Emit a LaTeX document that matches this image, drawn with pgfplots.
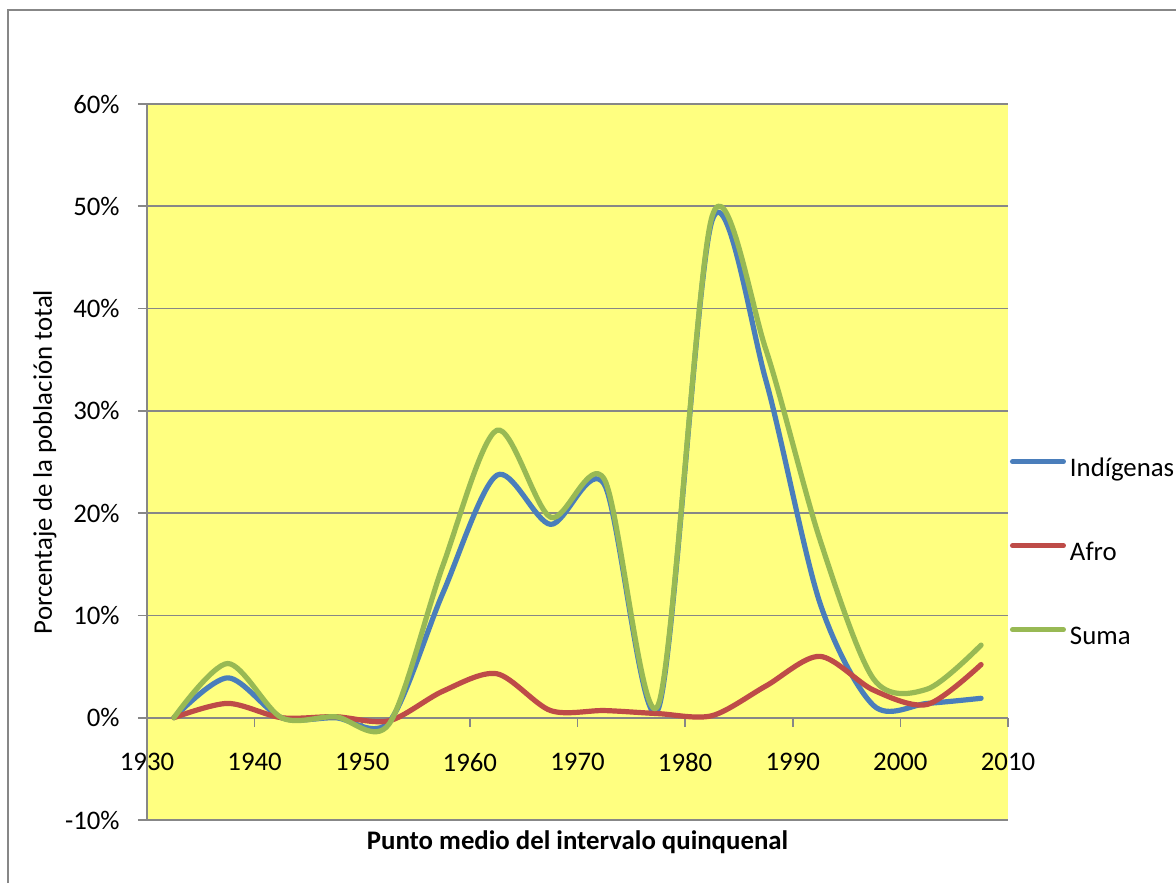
\documentclass[border=0pt]{standalone}
\usepackage{fontspec}
\setmainfont{Carlito}
\usepackage{pgfplots}
\pgfplotsset{compat=1.18}
\definecolor{cblue}{HTML}{4A7EBB}
\definecolor{cred}{HTML}{BE4B48}
\definecolor{cgreen}{HTML}{98B954}
\definecolor{cyel}{HTML}{FFFF80}
\definecolor{cgrid}{HTML}{878787}
\pgfplotstableread{
x indig afro suma
1932.5 0 0 0
1937.5 3.9 1.4 5.3
1942.5 0 0 0
1947.5 0 0.1 0.1
1952.5 -0.4 -0.3 -0.6
1957.5 12.2 2.6 14.9
1962.5 23.7 4.3 28.1
1967.5 18.9 0.7 19.6
1972.5 22.8 0.7 23.3
1977.5 0.85 0.4 1.25
1982.5 48.6 0.2 49.0
1987.5 33.0 3.1 36.0
1992.5 11.3 6.0 17.5
1997.5 1.2 2.7 3.8
2002.5 1.4 1.3 2.8
2007.5 1.9 5.2 7.1
}\datatable
\begin{document}
\begin{tikzpicture}
\useasboundingbox (0pt,0pt) rectangle (588pt,441.5pt);
\draw[cgrid, line width=1pt] (4pt,0pt) -- (4pt,436.5pt) -- (588pt,436.5pt);
\begin{axis}[
  at={(73.5pt,31.5pt)}, anchor=south west,
  scale only axis, width=430.5pt, height=358pt,
  xmin=1930, xmax=2010, ymin=-10, ymax=60,
  axis x line=middle, axis y line=left,
  hide obscured x ticks=false, hide obscured y ticks=false,
  axis line style={-, cgrid, line width=0.8pt},
  axis background/.style={fill=cyel},
  xtick={1930,1940,...,2010},
  ytick={-10,0,...,60},
  ymajorgrids, grid style={cgrid, line width=0.8pt},
  tick align=outside, major tick length=4.5pt,
  tick style={cgrid, line width=0.8pt},
  /pgf/number format/.cd, 1000 sep={}, assume math mode=true, /pgfplots/.cd,
  yticklabel={\pgfmathprintnumber{\tick}\%},
  ticklabel style={font=\fontsize{13.4pt}{15.5pt}\selectfont, text=black},
  xticklabel style={anchor=center, inner sep=0pt, yshift=-17.75pt},
  yticklabel style={anchor=east, inner sep=0pt, xshift=-9pt},
  every axis x label/.style={at={(axis description cs:0.5,-0.0307)}, anchor=center, font=\fontsize{13.4pt}{15.5pt}\selectfont\bfseries},
  every axis y label/.style={at={(axis description cs:-0.1185,0.5)}, anchor=center, rotate=90, font=\fontsize{13.4pt}{15.5pt}\selectfont},
  xlabel={Punto medio del intervalo quinquenal},
  ylabel={Porcentaje de la población total},
  legend style={at={(axis description cs:1.0023,0.5052)}, anchor=north west, draw=none, fill=none, inner sep=0pt, outer sep=0pt, row sep=30pt, column sep=2pt, font=\fontsize{13.4pt}{15.5pt}\selectfont, nodes={inner sep=0pt, text height=9pt, text depth=3pt}},
  legend cell align=left,
  legend image code/.code={\draw[#1, line width=2.5pt, line cap=round] (1pt,4.3pt) -- (26.5pt,4.3pt);},
  every axis plot/.append style={line width=2.6pt, line cap=round, line join=round, smooth},
]
\addplot[cblue] table[x=x, y=indig] {\datatable};
\addlegendentry{Indígenas}
\addplot[cred] table[x=x, y=afro] {\datatable};
\addlegendentry{Afro}
\addplot[cgreen] table[x=x, y=suma] {\datatable};
\addlegendentry{Suma}
\end{axis}
\end{tikzpicture}
\end{document}
